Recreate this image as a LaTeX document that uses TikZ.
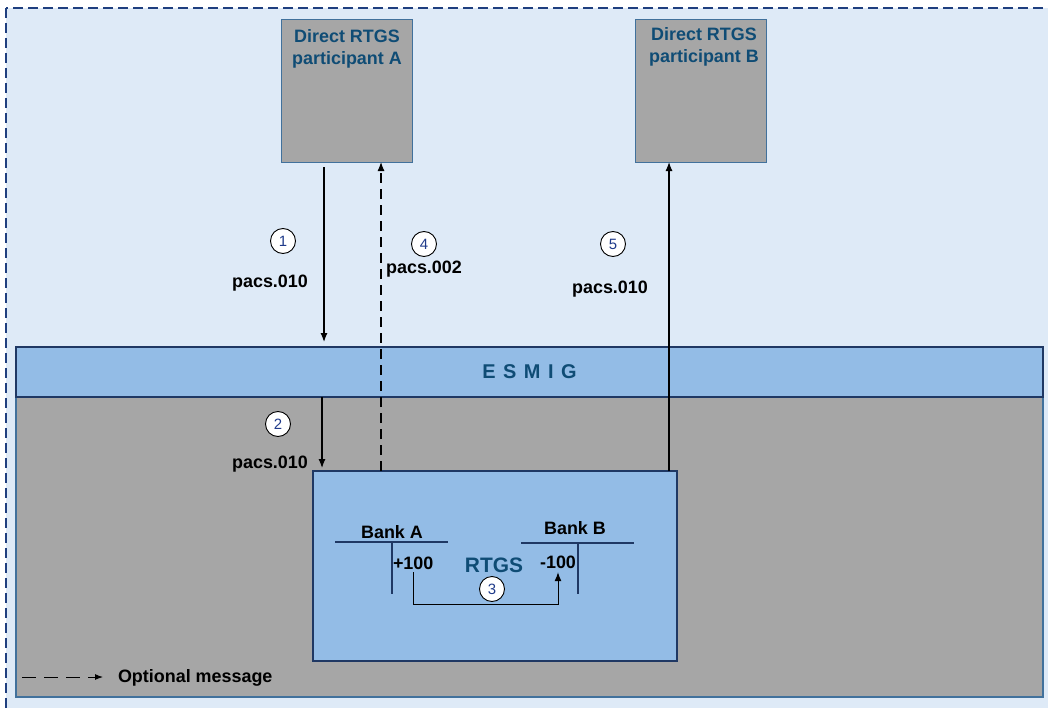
\documentclass[tikz,border=0pt]{standalone}
\usepackage{fontspec}
\setmainfont{Liberation Sans}
\usetikzlibrary{arrows.meta,calc}
\definecolor{framefill}{HTML}{DEEAF7}
\definecolor{framedash}{HTML}{1F3F7F}
\definecolor{esmigfill}{HTML}{93BCE6}
\definecolor{navy}{HTML}{1F3864}
\definecolor{coregray}{HTML}{A6A6A6}
\definecolor{titleblue}{HTML}{0F4C75}
\definecolor{numblue}{HTML}{1F3A8A}
\definecolor{partedge}{HTML}{41719C}
\begin{document}
\begin{tikzpicture}[x=1bp,y=-1bp,
  every node/.style={inner sep=0,outer sep=0},
  lbl/.style={font=\fontsize{18}{22}\selectfont\bfseries},
  title/.style={lbl,text=titleblue,align=center},
  partbox/.style={draw=partedge,line width=1bp,fill=coregray,minimum width=131bp,minimum height=142bp},
  num/.style={circle,draw=black,line width=0.9bp,fill=white,minimum size=25bp,text=numblue,font=\fontsize{15}{15}\selectfont},
  msg/.style={line width=1.2bp,-{Latex[length=9bp,width=7bp]}},
  optmsg/.style={msg,dash pattern=on 10bp off 6bp},
  tline/.style={draw=navy,line width=1.3bp}
]
\clip (0,0) rectangle (1048,708);
\fill[white] (0,0) rectangle (1048,708);
% outer domain frame
\draw[draw=framedash,fill=framefill,line width=1.2bp,dash pattern=on 10bp off 5bp] (6,8) rectangle (1070,730);

% central infrastructure
\node[draw=partedge,line width=1.5bp,fill=coregray,minimum width=1027bp,minimum height=300bp] (core) at (529.5,547) {};
\node[draw=navy,line width=1.5bp,fill=esmigfill,minimum width=1027bp,minimum height=50bp,
      text=titleblue,font=\fontsize{20}{20}\selectfont\bfseries] (esmig) at (529.5,372) {{\spaceskip=7.5bp E S M I G}};
\node[draw=navy,line width=1.5bp,fill=esmigfill,minimum width=364bp,minimum height=190bp] (rtgs) at (495,566) {};

% participants
\node[partbox] (pA) at (346.5,91) {};
\node[partbox] (pB) at (700.5,91) {};
\node[title,anchor=north] (pAt) at (347,30) {Direct RTGS\\participant A};
\node[title,anchor=north] (pBt) at (704,28) {Direct RTGS\\participant B};

% message flows
\coordinate (x1) at (324,0);
\coordinate (x2) at (322,0);
\coordinate (x4) at (381,0);
\coordinate (x5) at (669,0);
\draw[msg,shorten <=5bp,shorten >=5bp] (x1 |- pA.south) -- (x1 |- esmig.north);
\draw[msg,shorten >=3bp] (x2 |- esmig.south) -- (x2 |- rtgs.north);
\draw[optmsg] (x4 |- rtgs.north) -- (x4 |- pA.south);
\draw[msg] (x5 |- rtgs.north) -- (x5 |- pB.south);

\node[lbl,anchor=base] (m1) at (270,287) {pacs.010};
\node[lbl,anchor=base] (m2) at (270,468) {pacs.010};
\node[lbl,anchor=base] (m4) at (424,273) {pacs.002};
\node[lbl,anchor=base] (m5) at (610,293) {pacs.010};

% T-accounts inside RTGS
\node[lbl,anchor=base] (bankA) at (392,538) {Bank A};
\draw[tline] (335,542) -- (448,542) (392,542) -- (392,594);
\node[lbl,anchor=base west] (plus) at (393,569) {+100};
\node[lbl,anchor=base] (bankB) at (575,534) {Bank B};
\draw[tline] (521,543) -- (634,543) (578,543) -- (578,594);
\node[lbl,anchor=base] (minus) at (558,568) {-100};
\node[font=\fontsize{21}{21}\selectfont\bfseries,text=titleblue,anchor=base] (rtgsl) at (494,572) {RTGS};
\coordinate (y3) at (0,604);
\draw[msg,line width=1bp] ([yshift=-3bp]plus.south) -- (plus.south |- y3) -| ([yshift=-4bp]minus.south);

% step numbers
\node[num] (n1) at (283,241) {1};
\node[num] (n2) at (278,424) {2};
\node[num] (n3) at (492,589) {3};
\node[num] (n4) at (424,244) {4};
\node[num] (n5) at (613,244) {5};

% legend
\node[lbl,anchor=base west] (legend) at (118,682) {Optional message};
\coordinate (lg) at (22,677);
\draw[line width=1bp,dash pattern=on 14bp off 8bp,-{Latex[length=8bp,width=6bp]},shorten >=15bp] (lg) -- (lg -| legend.west);
\end{tikzpicture}
\end{document}
